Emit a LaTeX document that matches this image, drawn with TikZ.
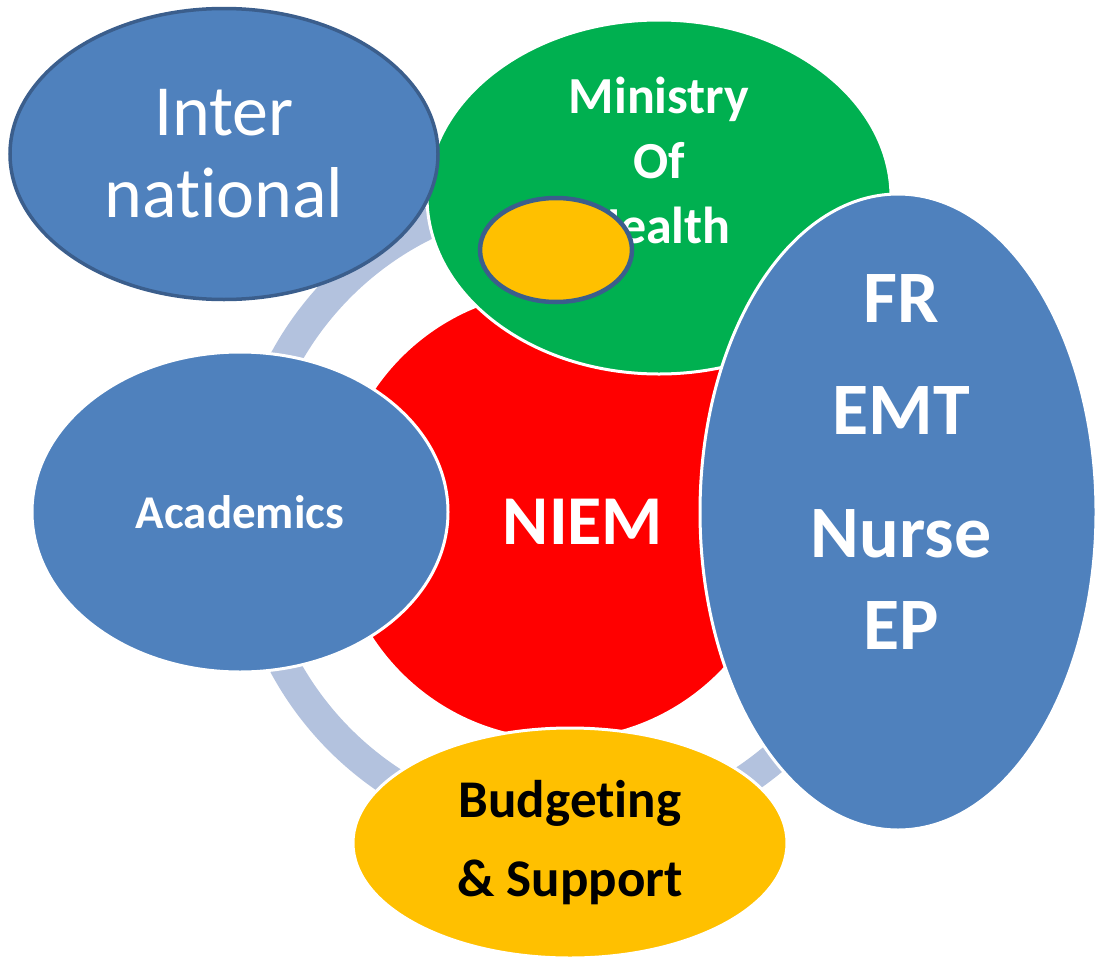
\documentclass[tikz,border=0pt]{standalone}
\usepackage{fontspec}
\setmainfont[Ligatures={NoCommon,NoContextual,NoRare,NoHistoric},Contextuals={NoAlternate}]{Carlito}
\usetikzlibrary{shapes.geometric}
\definecolor{ringblue}{RGB}{179,194,222}
\definecolor{niemred}{RGB}{255,0,0}
\definecolor{mohgreen}{RGB}{0,176,80}
\definecolor{accentblue}{RGB}{79,129,189}
\definecolor{darkrim}{RGB}{59,94,140}
\definecolor{gold}{RGB}{255,192,0}
\tikzset{
  bubble/.style={ellipse, draw=white, line width=3pt, inner sep=0pt},
  bigtxt/.style={text=white, align=center, inner sep=0pt},
}
\begin{document}
\begin{tikzpicture}[x=1pt,y=-1pt]
	\useasboundingbox (0,0) rectangle (1097,961);
	% ring behind the bubbles
	\coordinate (hub) at (567,513);
	\draw [ringblue,line width=31pt] (hub) circle [radius=321pt];
	\node [bubble,fill=niemred,minimum width=450pt,minimum height=450pt] (niem) at (560,515) {};
	\node [bubble,fill=mohgreen,minimum width=464pt,minimum height=354pt] (moh) at (659,197) {};
	\node [bigtxt,font=\fontsize{52}{65}\selectfont\bfseries] (mohtxt) at (659,160) {Ministry\\Of\\Health};
	\node [ellipse,fill=gold,draw=darkrim,line width=4.5pt,minimum width=152pt,minimum height=104pt] (spot) at (556,250) {};
	\node [ellipse,fill=accentblue,draw=darkrim,line width=3.5pt,minimum width=428pt,minimum height=291pt,
		text=white,align=center,inner sep=0pt,font=\fontsize{72}{82}\selectfont] (intl) at (224,154) {Inter\\nat\kern0pt ional};
	\node [bubble,fill=accentblue,minimum width=416pt,minimum height=320pt,
		text=white,font=\fontsize{47}{56}\selectfont\bfseries] (acad) at (240,512) {Academics};
	\node [bubble,fill=gold,minimum width=434pt,minimum height=230pt,
		align=center,font=\fontsize{53}{79}\selectfont\bfseries] (budget) at (570,843) {Budget\kern0pt ing\\\& Support};
	\node [bubble,fill=accentblue,minimum width=396pt,minimum height=636pt] (staff) at (898,512) {};
	\node [bigtxt,font=\fontsize{74}{92}\selectfont\bfseries] (stafftxt) at (901,462) {FR\\[20pt]EMT\\[31pt]Nurse\\EP};
	\node [bigtxt,font=\fontsize{70}{84}\selectfont\bfseries] (niemtxt) at (583,522) {NIEM};
\end{tikzpicture}
\end{document}
